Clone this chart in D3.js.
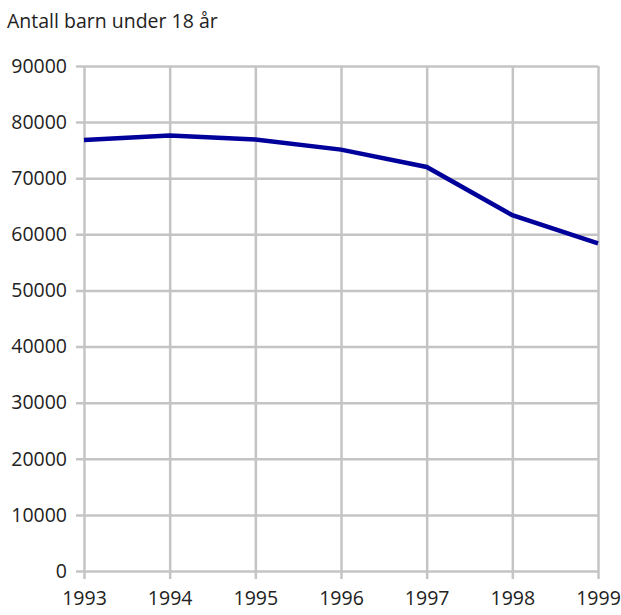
<!DOCTYPE html>
<html>
<head>
<meta charset="utf-8">
<script src="https://cdn.jsdelivr.net/npm/d3@7"></script>
<style>
  html, body { margin: 0; padding: 0; background: #fff; }
  svg { display: block; font-family: "Open Sans", sans-serif; }
</style>
</head>
<body>
<svg id="chart" width="621" height="615"></svg>
<script>
const years = [1993, 1994, 1995, 1996, 1997, 1998, 1999];
const children = [76800, 77600, 76900, 75100, 72000, 63400, 58400];
const yTicks = [0, 10000, 20000, 30000, 40000, 50000, 60000, 70000, 80000, 90000];

const margin = { top: 66, right: 23, bottom: 44, left: 84 };
const width = 621, height = 615;
const fontSize = 19.5;

const svg = d3.select('#chart');

const x = d3.scaleLinear().domain([1993, 1999]).range([margin.left, width - margin.right]);
const y = d3.scaleLinear().domain([0, 90000]).range([height - margin.bottom, margin.top]);

svg.append('text')
  .attr('x', 7).attr('y', 28)
  .attr('font-size', fontSize).attr('fill', '#222')
  .text('Antall barn under 18 år');

// horizontal grid + y ticks
const yAxis = d3.axisLeft(y)
  .tickValues(yTicks)
  .tickSize(-(x.range()[1] - x.range()[0]) - 8)
  .tickFormat(d3.format('d'))
  .tickPadding(9);

const gy = svg.append('g')
  .attr('transform', `translate(${margin.left - 8},0)`)
  .call(yAxis);
gy.select('.domain').remove();
gy.selectAll('line').attr('stroke', '#c4c4c4').attr('stroke-width', 2.5);
gy.selectAll('text').attr('font-size', fontSize).attr('fill', '#222')
  .attr('font-family', '"Open Sans", sans-serif');

// vertical grid + x ticks
const xAxis = d3.axisBottom(x)
  .tickValues(years)
  .tickSize(-(y.range()[0] - y.range()[1]) - 8)
  .tickFormat(d3.format('d'))
  .tickPadding(12);

const gx = svg.append('g')
  .attr('transform', `translate(0,${y(0) + 8})`)
  .call(xAxis);
gx.select('.domain').remove();
gx.selectAll('line').attr('stroke', '#c4c4c4').attr('stroke-width', 2.5);
gx.selectAll('text').attr('font-size', fontSize).attr('fill', '#222')
  .attr('font-family', '"Open Sans", sans-serif');

const line = d3.line()
  .x((d, i) => x(years[i]))
  .y((d) => y(d));

svg.append('path')
  .datum(children)
  .attr('fill', 'none')
  .attr('stroke', '#00009a')
  .attr('stroke-width', 4.5)
  .attr('stroke-linejoin', 'miter')
  .attr('d', line);
</script>
</body>
</html>
